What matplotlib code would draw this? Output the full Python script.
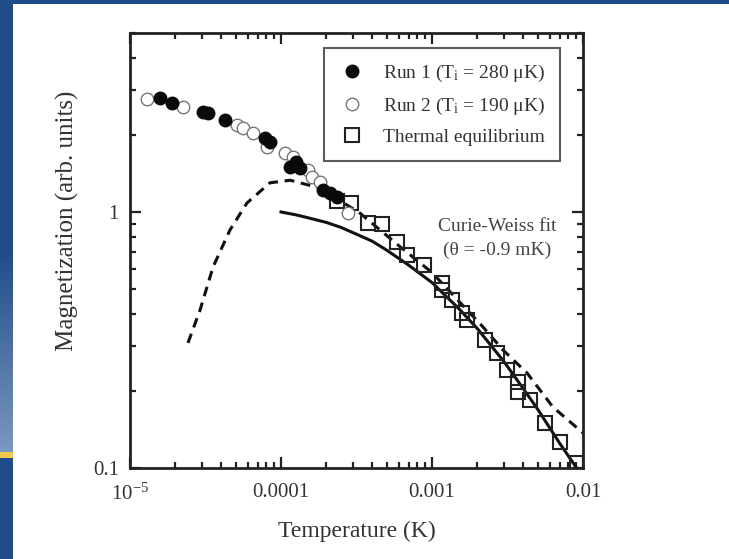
import matplotlib
matplotlib.use("Agg")
import matplotlib.pyplot as plt
import numpy as np
from matplotlib.patches import Rectangle
from matplotlib.lines import Line2D

plt.rcParams['font.family'] = ['Liberation Serif', 'DejaVu Serif']
plt.rcParams['mathtext.default'] = 'regular'

# ---------------- data ----------------
run1_T = [1.58e-5, 1.90e-5, 3.04e-5, 3.29e-5, 4.26e-5, 7.83e-5, 8.45e-5,
          1.15e-4, 1.26e-4, 1.34e-4, 1.90e-4, 2.11e-4, 2.35e-4]
run1_M = [2.79, 2.67, 2.46, 2.44, 2.29, 1.95, 1.88,
          1.50, 1.57, 1.49, 1.22, 1.19, 1.14]

run2_T = [1.30e-5, 2.25e-5, 5.12e-5, 5.6e-5, 6.53e-5, 8.08e-5, 1.06e-4,
          1.20e-4, 1.51e-4, 1.60e-4, 1.81e-4, 2.78e-4]
run2_M = [2.76, 2.57, 2.19, 2.12, 2.04, 1.79, 1.70,
          1.64, 1.46, 1.37, 1.31, 0.99]

eq_T = [2.35e-4, 2.91e-4, 3.77e-4, 4.67e-4, 5.87e-4, 6.83e-4, 8.85e-4,
        1.16e-3, 1.16e-3, 1.36e-3, 1.58e-3, 1.71e-3, 2.24e-3, 2.69e-3,
        3.14e-3, 3.71e-3, 3.71e-3, 4.46e-3, 5.60e-3, 7.04e-3, 9.12e-3]
eq_M = [1.10, 1.08, 0.906, 0.90, 0.763, 0.68, 0.621,
        0.528, 0.496, 0.453, 0.403, 0.379, 0.316, 0.281,
        0.241, 0.217, 0.198, 0.184, 0.150, 0.126, 0.105]

cw_T = [1.0e-4, 1.25e-4, 1.5e-4, 2e-4, 2.5e-4, 3e-4, 4e-4, 5e-4, 7e-4, 1e-3,
        1.5e-3, 2e-3, 3e-3, 4e-3, 5e-3, 7e-3, 1e-2]
cw_M = [1.0, 0.975, 0.95, 0.91, 0.87, 0.83, 0.77, 0.71, 0.62, 0.53,
        0.42, 0.35, 0.26, 0.205, 0.17, 0.125, 0.092]

dash_T = [2.42e-5, 2.91e-5, 3.55e-5, 4.59e-5, 5.95e-5, 8.45e-5, 1.15e-4,
          1.81e-4, 3.33e-4, 6e-4, 1e-3, 2.18e-3, 2.95e-3, 4.26e-3,
          6.32e-3, 1e-2]
dash_M = [0.308, 0.414, 0.61, 0.85, 1.084, 1.30, 1.33,
          1.24, 0.99, 0.74, 0.58, 0.355, 0.289, 0.235,
          0.173, 0.137]

x_ticks = [1e-5, 1e-4, 1e-3, 1e-2]
x_ticklabels = ['10$^{-5}$', '0.0001', '0.001', '0.01']
y_ticks = [0.1, 1]
y_ticklabels = ['0.1', '1']

# ---------------- figure ----------------
W, H = 729, 559
fig = plt.figure(figsize=(W / 100, H / 100), dpi=100)
fig.patch.set_facecolor('white')

# slide decoration: left blue strip with gradient and top blue strip
bg = fig.add_axes([0, 0, 13 / W, 1])
bg.set_axis_off()
ny = 559
cols = np.zeros((ny, 1, 3))
dark = np.array([0x1f, 0x4c, 0x8a]) / 255.0
light = np.array([0x7a, 0x98, 0xc0]) / 255.0
for i in range(ny):
    if 250 <= i < 452:
        t = (i - 250) / 202.0
        cols[i, 0] = dark * (1 - t) + light * t
    elif 452 <= i < 458:
        cols[i, 0] = np.array([0xf0, 0xc8, 0x50]) / 255.0
    else:
        cols[i, 0] = dark
bg.imshow(cols, aspect='auto', extent=[0, 1, 0, 1], origin='upper')
fig.patches.append(Rectangle((0, 1 - 4 / H), 1, 4 / H, transform=fig.transFigure,
                             facecolor='#1f4c8a', edgecolor='none', zorder=0))

ax = fig.add_axes([130 / W, 1 - 468 / H, (583 - 130) / W, (468 - 33) / H])
ax.set_xscale('log')
ax.set_yscale('log')
ax.set_xlim(1e-5, 1e-2)
ax.set_ylim(0.1, 5.0)

ax.plot(dash_T, dash_M, linestyle=(0, (3.2, 2.2)), color='#111111', lw=2.2, zorder=2)
ax.plot(cw_T, cw_M, '-', color='#111111', lw=2.2, zorder=2)
ax.plot(eq_T, eq_M, 's', mfc='none', mec='#222222', mew=1.5, ms=9.5, zorder=3)
ax.plot(run2_T, run2_M, 'o', mfc='white', mec='#777777', mew=1.0, ms=9, zorder=4)
ax.plot(run1_T, run1_M, 'o', mfc='#0a0a0a', mec='#0a0a0a', ms=9, zorder=5)

ax.set_xticks(x_ticks)
ax.set_xticklabels(x_ticklabels)
ax.set_yticks(y_ticks)
ax.set_yticklabels(y_ticklabels)
ax.tick_params(which='both', direction='in', top=True, right=True,
               colors='#222222', labelcolor='#333333', labelsize=15)
ax.tick_params(which='major', length=8, width=1.6)
ax.tick_params(axis='x', which='major', pad=11)
ax.tick_params(axis='y', which='major', pad=8)
ax.tick_params(which='minor', length=4.5, width=1.6)
ax.yaxis.set_minor_formatter(matplotlib.ticker.NullFormatter())
for s in ax.spines.values():
    s.set_linewidth(2.0)
    s.set_color('#222222')

ax.set_xlabel('Temperature (K)', fontsize=17, color='#333333', labelpad=12)
ax.set_ylabel('Magnetization (arb. units)', fontsize=18, color='#333333')
ax.yaxis.set_label_coords(-0.112, 0.569)

ax.text(0.81, 0.555, 'Curie-Weiss fit', transform=ax.transAxes, fontsize=14,
        color='#444444', ha='center', va='center')
ax.text(0.81, 0.5, '(θ = -0.9 mK)', transform=ax.transAxes, fontsize=14,
        color='#444444', ha='center', va='center')

handles = [
    Line2D([], [], linestyle='none', marker='o', mfc='#0a0a0a', mec='#0a0a0a', ms=9),
    Line2D([], [], linestyle='none', marker='o', mfc='white', mec='#777777', mew=1.0, ms=9),
    Line2D([], [], linestyle='none', marker='s', mfc='none', mec='#222222', mew=1.5, ms=9.5),
]
labels = ['Run 1 (T$_{i}$ = 280 μK)', 'Run 2 (T$_{i}$ = 190 μK)', 'Thermal equilibrium']
leg = ax.legend(handles, labels, loc='upper right', bbox_to_anchor=(0.97, 0.987),
                fontsize=14, frameon=True, fancybox=False, edgecolor='#333333',
                handletextpad=0.9, borderpad=0.75, labelspacing=0.6,
                handlelength=1.4)
leg.get_frame().set_linewidth(1.5)
for t in leg.get_texts():
    t.set_color('#333333')

fig.savefig('out.png', dpi=100)
